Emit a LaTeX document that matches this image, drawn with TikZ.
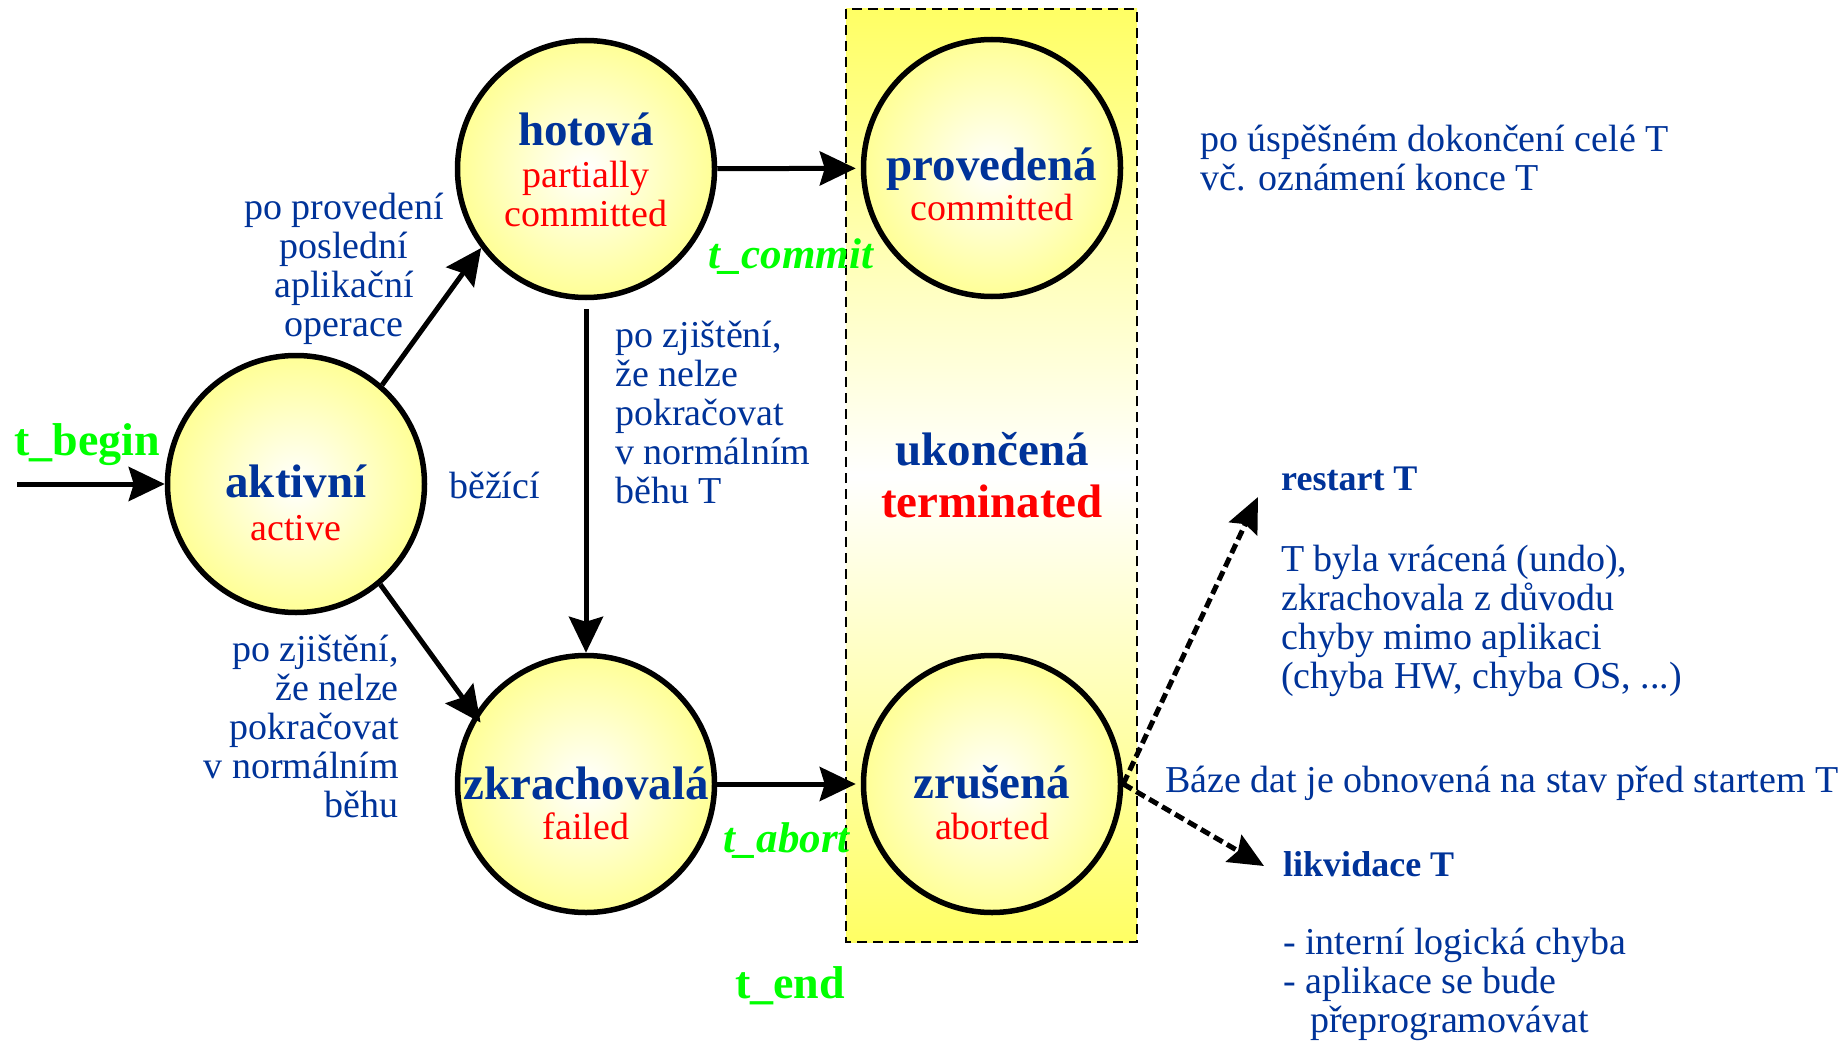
\documentclass[tikz,border=0pt]{standalone}
\usepackage{fontspec}
\setmainfont{Liberation Serif}
\usetikzlibrary{arrows.meta,positioning}

\definecolor{czblue}{RGB}{0,51,153}
\definecolor{evgreen}{RGB}{0,255,0}
\definecolor{stfill}{RGB}{255,255,150}
\definecolor{termfill}{RGB}{255,255,100}

\tikzset{
  state/.style={circle, draw=black, line width=5.5pt, minimum size=257pt, inner sep=0pt,
    inner color=white, outer color=stfill},
  stname/.style={text=czblue, font=\fontsize{47}{50}\selectfont\bfseries, anchor=base, inner sep=0pt},
  stsub/.style={text=red, font=\fontsize{38}{40}\selectfont, anchor=base, inner sep=0pt},
  notetext/.style={text=czblue, font=\fontsize{38}{39}\selectfont, inner sep=0pt},
  evtext/.style={text=evgreen, font=\fontsize{46}{50}\selectfont\bfseries, anchor=base west, inner sep=0pt},
  trans/.style={line width=5pt, -{Stealth[length=36pt,width=34pt,inset=5pt]}},
  fallback/.style={line width=5pt, dash pattern=on 10pt off 5pt, -{Stealth[length=35pt,width=31pt,inset=5pt]}}
}

\begin{document}
\begin{tikzpicture}[x=1pt, y=-1pt]
\useasboundingbox (0,0) rectangle (1845,1041);

% terminated block
\draw[line width=2.5pt, dash pattern=on 10pt off 6pt, top color=termfill, bottom color=termfill, middle color=white] (846,9) rectangle (1137,942);
\node[stname] (ukoncena) at (992,465) {ukončená};
\node[stname, text=red] (terminated) at (992,517) {terminated};

% states
\node[state] (aktivni) at (296,484) {};
\node[state] (hotova) at (586,169) {};
\node[state] (zkrach) at (586,784) {};
\node[state] (provedena) at (992,168) {};
\node[state] (zrusena) at (992,784) {};

\node[stname] (aktivniname) at (296,497) {aktivní};
\node[stsub] (aktivnisub) at (296,540) {active};
\node[stname] (hotovaname) at (586,145) {hotová};
\node[stsub] (hotovasub) at (586,187) {partially};
\node[stsub] (hotovasubb) at (586,226) {committed};
\node[stname] (provedenaname) at (992,180) {provedená};
\node[stsub] (provedenasub) at (992,220) {committed};
\node[stname] (zkrachname) at (586,799) {zkrachovalá};
\node[stsub] (zkrachsub) at (586,839) {failed};
\node[stname] (zrusenaname) at (992,798) {zrušená};
\node[stsub] (zrusenasub) at (992,839) {aborted};

% events
\node[evtext] (tbegin) at (14,455) {t\_begin};
\node[evtext, font=\fontsize{43}{46}\selectfont\bfseries\itshape] (tcommit) at (708,268) {t\_commit};
\node[evtext, font=\fontsize{43}{46}\selectfont\bfseries\itshape] (tabort) at (723,852) {t\_abort};
\node[evtext] (tend) at (735,998) {t\_end};

% transitions
\coordinate (entry) at (17,484);
\draw[trans] (entry) -- (aktivni);
\draw[trans] (aktivni.49) -- (hotova.217);
\draw[trans, shorten >=-10pt] (aktivni.-50) -- (zkrach.148);
\draw[trans, shorten <=9pt] (hotova) -- (zkrach);
\draw[trans, shorten >=5pt] (hotova) -- (provedena);
\draw[trans, shorten >=5pt] (zkrach) -- (zrusena);

\coordinate (restartend) at (1258,497);
\coordinate (likvidend) at (1264,866);
\draw[fallback] (zrusena.east) -- (restartend);
\draw[fallback] (zrusena.east) -- (likvidend);

% notes (base = last line)
\node[notetext, align=center, anchor=base] (notecommit) at (344,336) {po provedení\\poslední\\aplikační\\operace};
\node[notetext, anchor=base west] (notebezi) at (449,498) {běžící};
\node[notetext, align=left, anchor=base west] (notefaila) at (615,503) {po zjištění,\\že nelze\\pokračovat\\v normálním\\běhu T};
\node[notetext, align=right, anchor=base east] (notefailb) at (399,817) {po zjištění,\\že nelze\\pokračovat\\v normálním\\běhu};
\node[notetext, align=left, anchor=base west] (notedone) at (1200,190) {po úspěšném dokončení celé T\\vč. oznámení konce T};
\node[notetext, font=\fontsize{36}{39}\selectfont\bfseries, anchor=base west] (restart) at (1281,490) {restart T};
\node[notetext, align=left, anchor=base west] (noterestart) at (1281,688) {T byla vrácená (undo),\\zkrachovala z důvodu\\chyby mimo aplikaci\\(chyba HW, chyba OS, ...)};
\node[notetext, anchor=base west] (notedb) at (1165,792) {Báze dat je obnovená na stav před startem T};
\node[notetext, font=\fontsize{36}{39}\selectfont\bfseries, anchor=base west] (likvidace) at (1283,876) {likvidace T};
\node[notetext, align=left, anchor=base west] (notelikv) at (1283,1032) {- interní logická chyba\\- aplikace se bude\\\hspace*{27pt}přeprogramovávat};
\end{tikzpicture}
\end{document}
